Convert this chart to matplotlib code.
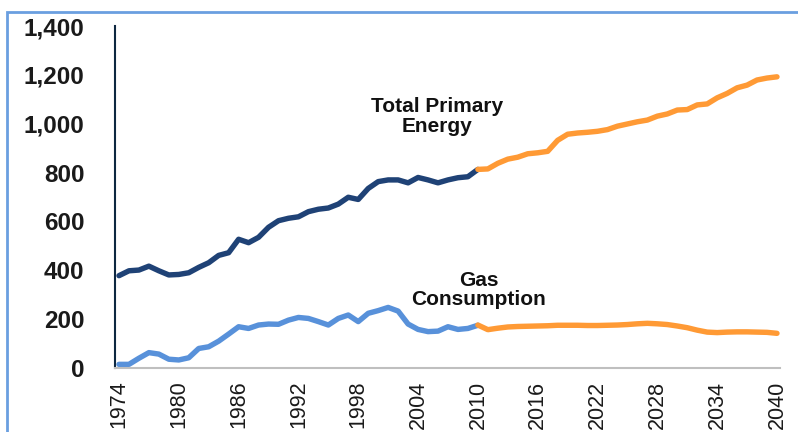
import matplotlib.pyplot as plt
from matplotlib.patches import Rectangle
from matplotlib.ticker import FuncFormatter

plt.rcParams['font.family'] = ['Liberation Sans', 'DejaVu Sans']

# historical data 1974-2010
hist_years = list(range(1974, 2011))
total_hist = [378, 398, 401, 417, 398, 381, 383, 390, 412, 431, 461, 472, 527, 513,
              535, 576, 603, 613, 619, 640, 650, 655, 671, 699, 690, 735, 763, 770,
              770, 758, 780, 770, 758, 770, 779, 783, 813]
gas_hist = [15, 15, 40, 63, 57, 36, 33, 42, 80, 87, 110, 139, 169, 162, 176, 180,
            179, 196, 207, 203, 190, 176, 203, 217, 190, 224, 235, 248, 233, 180,
            158, 149, 151, 169, 158, 162, 175]

# projections 2010-2040
proj_years = list(range(2010, 2041))
total_proj = [813, 815, 838, 855, 863, 877, 881, 887, 932, 957, 962, 965, 969, 976,
              990, 999, 1008, 1015, 1031, 1040, 1056, 1058, 1077, 1081, 1106, 1124,
              1147, 1158, 1179, 1187, 1192]
gas_proj = [176, 157, 163, 168, 170, 171, 172, 173, 175, 175, 175, 174, 174, 175,
            176, 178, 181, 183, 181, 178, 172, 165, 155, 147, 145, 147, 148, 148,
            147, 146, 142]

tick_years = list(range(1974, 2041, 6))
y_ticks = [0, 200, 400, 600, 800, 1000, 1200, 1400]

fig = plt.figure(figsize=(7.98, 4.32), dpi=100)
ax = fig.add_axes([0.1441, 0.1481, 0.8333, 0.7917])

navy = '#1F4276'
light_blue = '#5891DA'
orange = '#FF9A35'

ax.plot(hist_years, total_hist, color=navy, lw=3.9, solid_capstyle='round', solid_joinstyle='round')
ax.plot(hist_years, gas_hist, color=light_blue, lw=3.9, solid_capstyle='round', solid_joinstyle='round')
ax.plot(proj_years, total_proj, color=orange, lw=3.9, solid_capstyle='round', solid_joinstyle='round')
ax.plot(proj_years, gas_proj, color=orange, lw=3.9, solid_capstyle='round', solid_joinstyle='round')

ax.set_xlim(1973.6, 2040.3)
ax.set_ylim(0, 1400)
ax.set_xticks(tick_years)
ax.set_yticks(y_ticks)
ax.yaxis.set_major_formatter(FuncFormatter(lambda v, p: f'{int(v):,}'))
ax.tick_params(axis='y', length=0, pad=22, labelsize=17.5, labelcolor='#1a1a1a')
ax.tick_params(axis='x', length=0, pad=9, labelsize=15.5, labelcolor='#1a1a1a',
               labelrotation=90)
for lbl in ax.get_yticklabels():
    lbl.set_fontweight('bold')

for s in ['top', 'right']:
    ax.spines[s].set_visible(False)
ax.spines['left'].set_color('#0E2841')
ax.spines['left'].set_linewidth(1.5)
ax.spines['bottom'].set_color('#BFBFBF')
ax.spines['bottom'].set_linewidth(1.5)

ax.text(2005.9, 1029, 'Total Primary\nEnergy', ha='center', va='center',
        fontsize=15, fontweight='bold', color='#111111', linespacing=1.05)
ax.text(2010.1, 319, 'Gas\nConsumption', ha='center', va='center',
        fontsize=15, fontweight='bold', color='#111111', linespacing=1.05)

# light blue frame around the chart
fig.patches.append(Rectangle((7 / 798, -0.2), 1.1, 1.2 - 12 / 432,
                             transform=fig.transFigure, fill=False,
                             edgecolor='#6A9FE0', lw=2))

fig.savefig('out.png', dpi=100)
